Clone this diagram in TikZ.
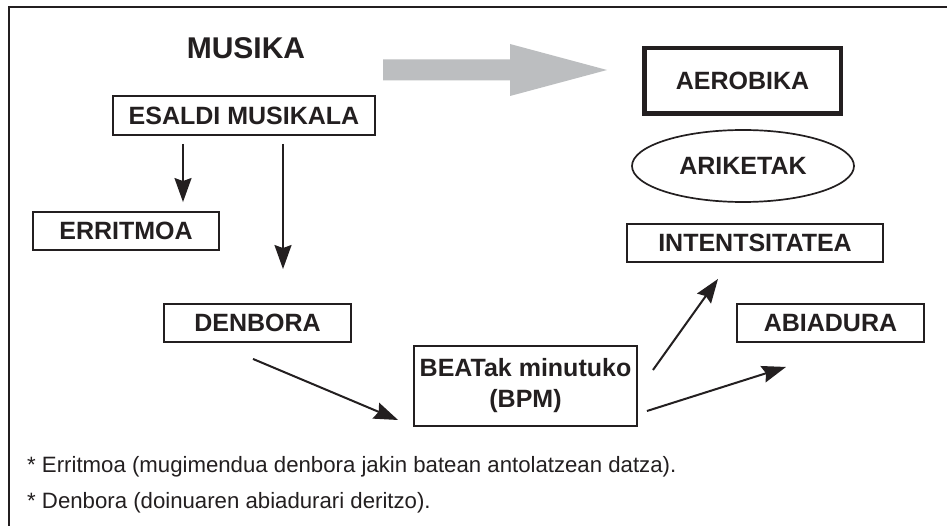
\documentclass[tikz,border=0pt]{standalone}
\usepackage{fontspec}
\setmainfont{Liberation Sans}
\usetikzlibrary{arrows.meta,shapes.geometric}
\definecolor{ink}{HTML}{231F20}
\definecolor{arrowgray}{HTML}{BCBEC0}
\begin{document}
\begin{tikzpicture}[x=1pt,y=-1pt,
  lbl/.style={font=\fontsize{25}{31}\selectfont\bfseries, text=ink, inner sep=0pt, align=center},
  box/.style={lbl, draw=ink, line width=1.9pt},
  thickbox/.style={lbl, draw=ink, line width=4.5pt},
  ell/.style={lbl, draw=ink, line width=1.7pt, ellipse},
  arr/.style={draw=ink, line width=2pt, -{Stealth[length=24pt,width=17pt,inset=3pt]}},
  note/.style={font=\fontsize{22.2}{25}\selectfont, text=ink, inner sep=0pt, anchor=base west}]
\useasboundingbox (0,0) rectangle (947,526);
\clip (0,0) rectangle (947,526);
\fill[white] (0,0) rectangle (947,526);
% frame
\draw[ink, line width=2.6pt] (960,7) -- (9,7) -- (9,540);
% gray arrow
\fill[arrowgray] (383,59.5) -- (510,59.5) -- (510,44) -- (607,70) -- (510,96) -- (510,80.5) -- (383,80.5) -- cycle;
% nodes
\node[lbl, font=\fontsize{30}{34}\selectfont\bfseries] (musika) at (246,48.5) {MUSIKA};
\node[box, minimum width=262pt, minimum height=39pt] (esaldi) at (244,115.5) {ESALDI MUSIKALA};
\node[box, minimum width=186pt, minimum height=38pt] (erritmoa) at (126,231) {ERRITMOA};
\node[box, minimum width=187pt, minimum height=38pt] (denbora) at (257.5,323) {DENBORA};
\node[box, minimum width=223pt, minimum height=80pt] (beat) at (525.5,386) {BEATak minutuko\\(BPM)};
\node[thickbox, minimum width=196.5pt, minimum height=65.5pt] (aerobika) at (742.5,81) {AEROBIKA};
\node[ell, minimum width=222pt, minimum height=72pt] (ariketak) at (743,166) {ARIKETAK};
\node[box, minimum width=256pt, minimum height=38pt] (intent) at (755,243) {INTENTSITATEA};
\node[box, minimum width=187pt, minimum height=38pt] (abiadura) at (830.5,323) {ABIADURA};
% connectors
\draw[arr] ([xshift=-61pt,yshift=-8pt]esaldi.south) -- ([xshift=57pt,yshift=9pt]erritmoa.north);
\draw[arr] ([xshift=39pt,yshift=-8pt]esaldi.south) -- ([xshift=25.5pt,yshift=34pt]denbora.north);
\draw[arr] ([xshift=-4.5pt,yshift=-16pt]denbora.south) -- ([xshift=-15pt,yshift=-34pt]beat.west);
\draw[arr] ([xshift=15pt,yshift=16pt]beat.east) -- ([xshift=-37pt,yshift=-16pt]intent.south);
\draw[arr] ([xshift=9pt,yshift=-25pt]beat.east) -- ([xshift=-44.5pt,yshift=-24pt]abiadura.south);
% notes
\node[note] (n1) at (27,472) {* Erritmoa (mugimendua denbora jakin batean antolatzean datza).};
\node[note] (n2) at (27,508) {* Denbora (doinuaren abiadurari deritzo).};
\end{tikzpicture}
\end{document}
